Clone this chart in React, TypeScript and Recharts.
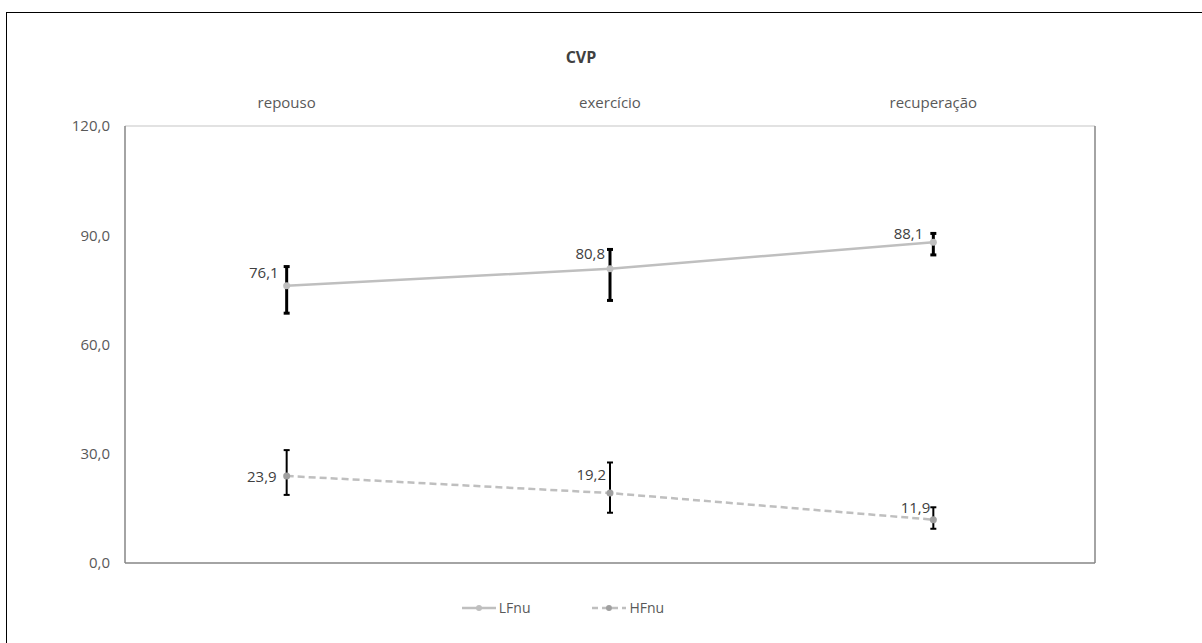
import { ComposedChart, Line, XAxis, YAxis, ErrorBar, LabelList, ReferenceLine } from 'recharts';

// CVP: LFnu / HFnu across the three protocol phases
const phases = ['repouso', 'exercício', 'recuperação'];
const lfnu = [76.1, 80.8, 88.1];
const hfnu = [23.9, 19.2, 11.9];
// error bar extents as [below, above] the mean
const lfnuErr = [[7.5, 5.3], [8.7, 5.3], [3.5, 2.4]];
const hfnuErr = [[5.2, 7.1], [5.4, 8.4], [2.5, 3.4]];
const yTicks = [0, 30, 60, 90, 120];

const data = phases.map((phase, i) => ({
  phase,
  LFnu: lfnu[i],
  HFnu: hfnu[i],
  lfErr: lfnuErr[i],
  hfErr: hfnuErr[i],
}));

const FONT = '"Open Sans", sans-serif';
const fmt = (v: number) => v.toFixed(1).replace('.', ',');

// hand-placed label nudges (dx, dy) per point, like the original sheet
const lfShift = [[-8, -14], [-5, -16], [-10, -9]];
const hfShift = [[-10, 0], [-4, -19], [-3, -13]];

function makeLabel(shift: number[][]) {
  return (props: any) => {
    const { x, y, value, index } = props;
    const [dx, dy] = shift[index] || [-8, -10];
    return (
      <text
        x={x + dx}
        y={y + dy}
        textAnchor="end"
        dominantBaseline="central"
        fontFamily={FONT}
        fontSize={15}
        fill="#404040"
      >
        {fmt(value)}
      </text>
    );
  };
}

function ChartLegend() {
  const items = [
    { name: 'LFnu', dash: undefined, dot: '#bfbfbf' },
    { name: 'HFnu', dash: '6 4', dot: '#a0a0a0' },
  ];
  return (
    <div
      style={{
        position: 'absolute',
        left: 0,
        width: 1126,
        top: 598,
        display: 'flex',
        justifyContent: 'center',
        gap: 62,
        fontFamily: FONT,
        fontSize: 14,
        color: '#595959',
      }}
    >
      {items.map((it) => (
        <div key={it.name} style={{ display: 'flex', alignItems: 'center', gap: 3 }}>
          <svg width={34} height={10}>
            <line x1={0} y1={5} x2={34} y2={5} stroke="#bfbfbf" strokeWidth={2.5} strokeDasharray={it.dash} />
            <circle cx={17} cy={5} r={3} fill={it.dot} />
          </svg>
          <span>{it.name}</span>
        </div>
      ))}
    </div>
  );
}

export default function App() {
  return (
    <div style={{ position: 'fixed', left: 0, top: 0, width: 1202, height: 643, background: '#fff', overflow: 'hidden' }}>
      <div
        style={{
          position: 'absolute',
          left: 6,
          top: 12,
          width: 1300,
          height: 700,
          borderLeft: '1.5px solid #000',
          borderTop: '1.5px solid #000',
        }}
      />
      <div
        style={{
          position: 'absolute',
          left: 481,
          width: 200,
          top: 46,
          textAlign: 'center',
          fontFamily: FONT,
          fontWeight: 700,
          fontSize: 16,
          color: '#404040',
        }}
      >
        CVP
      </div>
      <div style={{ position: 'absolute', left: 0, top: 0 }}>
        <ComposedChart width={1202} height={643} data={data} margin={{ top: 96, right: 106, bottom: 79, left: 65 }}>
          <XAxis
            xAxisId="top"
            dataKey="phase"
            orientation="top"
            scale="band"
            height={30}
            axisLine={false}
            tickLine={false}
            tickMargin={12}
            tick={{ fontFamily: FONT, fontSize: 15, fill: '#595959' }}
          />
          <XAxis
            xAxisId="bottom"
            dataKey="phase"
            orientation="bottom"
            scale="band"
            height={1}
            tick={false}
            tickLine={false}
            axisLine={{ stroke: '#868686', strokeWidth: 1.5 }}
          />
          <YAxis
            yAxisId="left"
            domain={[0, 120]}
            ticks={yTicks}
            width={60}
            tickLine={false}
            tickMargin={9}
            axisLine={{ stroke: '#868686', strokeWidth: 1.5 }}
            tickFormatter={fmt}
            tick={{ fontFamily: FONT, fontSize: 15, fill: '#595959' }}
          />
          <YAxis
            yAxisId="right"
            orientation="right"
            domain={[0, 120]}
            width={1}
            tick={false}
            tickLine={false}
            axisLine={{ stroke: '#868686', strokeWidth: 1.5 }}
          />
          <ReferenceLine xAxisId="top" yAxisId="left" y={120} stroke="#d9d9d9" strokeWidth={1.5} />
          <Line
            xAxisId="top"
            yAxisId="left"
            dataKey="LFnu"
            stroke="#bfbfbf"
            strokeWidth={2.5}
            dot={{ r: 3.5, fill: '#bfbfbf', stroke: 'none' }}
            isAnimationActive={false}
          >
            <ErrorBar dataKey="lfErr" direction="y" width={3} stroke="#000" strokeWidth={3} />
            <LabelList dataKey="LFnu" content={makeLabel(lfShift)} />
          </Line>
          <Line
            xAxisId="top"
            yAxisId="left"
            dataKey="HFnu"
            stroke="#bfbfbf"
            strokeWidth={2.5}
            strokeDasharray="7 4"
            dot={{ r: 3.5, fill: '#a0a0a0', stroke: 'none', strokeDasharray: '' }}
            isAnimationActive={false}
          >
            <ErrorBar dataKey="hfErr" direction="y" width={3} stroke="#000" strokeWidth={2} />
            <LabelList dataKey="HFnu" content={makeLabel(hfShift)} />
          </Line>
        </ComposedChart>
      </div>
      <ChartLegend />
    </div>
  );
}
